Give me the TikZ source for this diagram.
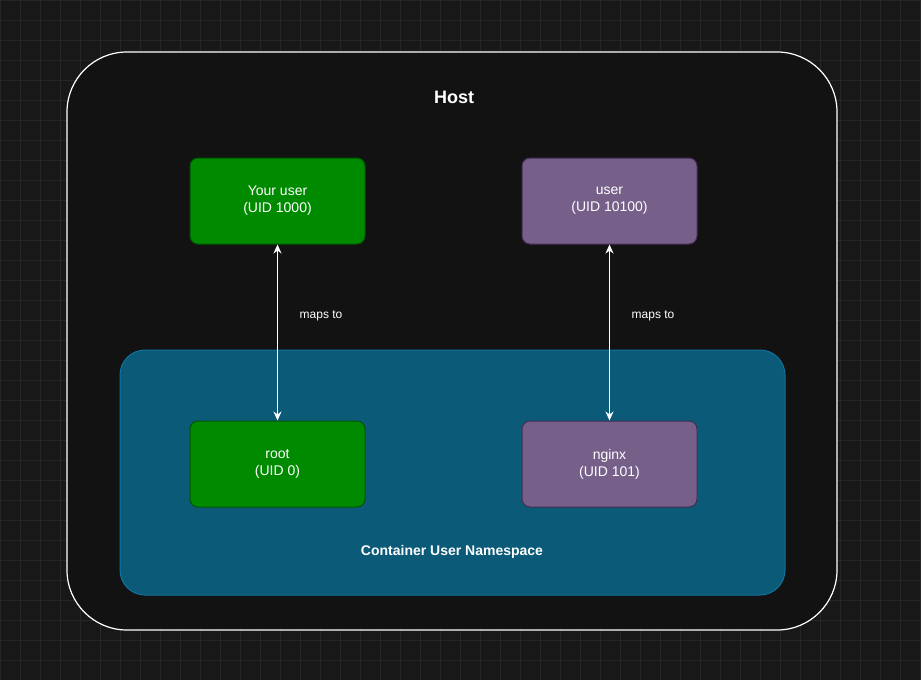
\documentclass[tikz,border=0pt]{standalone}
\usepackage{fontspec}
\setmainfont{Liberation Sans}
\usetikzlibrary{arrows.meta}
\definecolor{bg}{HTML}{181818}
\definecolor{gridc}{HTML}{262626}
\definecolor{hostfill}{HTML}{121212}
\definecolor{nsfill}{HTML}{0B5A78}
\definecolor{nsline}{HTML}{10739E}
\definecolor{gfill}{HTML}{008A00}
\definecolor{gline}{HTML}{005700}
\definecolor{pfill}{HTML}{76608A}
\definecolor{pline}{HTML}{432D57}
\begin{document}
\begin{tikzpicture}[x=1pt,y=-1pt,
  box/.style={draw,line width=1pt,rounded corners=8pt,minimum width=175pt,minimum height=86pt,text=white,align=center,font=\fontsize{14}{17}\selectfont},
  g/.style={box,fill=gfill,draw=gline},
  p/.style={box,fill=pfill,draw=pline},
  arr/.style={draw=white,line width=1.2pt,{Stealth[length=9pt,width=8pt]}-{Stealth[length=9pt,width=8pt]}},
  lbl/.style={text=white,font=\fontsize{12}{14}\selectfont}]
\useasboundingbox (0,0) rectangle (921,680);
\fill[bg] (0,0) rectangle (921,680);
\foreach \i in {0,20,...,920} \draw[gridc,line width=0.5pt] (\i,0) -- (\i,680);
\foreach \j in {0,20,...,680} \draw[gridc,line width=0.5pt] (0,\j) -- (921,\j);
\node[draw=white,line width=1.2pt,fill=hostfill,rounded corners=60pt,minimum width=770pt,minimum height=578pt] (host) at (452,341) {};
\node[text=white,font=\bfseries\fontsize{18}{21}\selectfont] (hostl) at (454,97) {Host};
\node[draw=nsline,line width=1pt,fill=nsfill,rounded corners=25pt,minimum width=665pt,minimum height=245pt] (ns) at (452.5,472.5) {};
\node[text=white,font=\bfseries\fontsize{14}{17}\selectfont] (nsl) at (452,552) {Container User Namespace};
\node[g] (yu) at (277.5,201) {Your user\\(UID 1000)};
\node[p] (u) at (609.5,201) {user\\(UID 10100)};
\node[g] (root) at (277.5,464) {root\\(UID 0)};
\node[p] (ng) at (609.5,464) {nginx\\(UID 101)};
\draw[arr] (yu) -- (root);
\draw[arr] (u) -- (ng);
\node[lbl] (m1) at (321,316) {maps to};
\node[lbl] (m2) at (653,316) {maps to};
\end{tikzpicture}
\end{document}
